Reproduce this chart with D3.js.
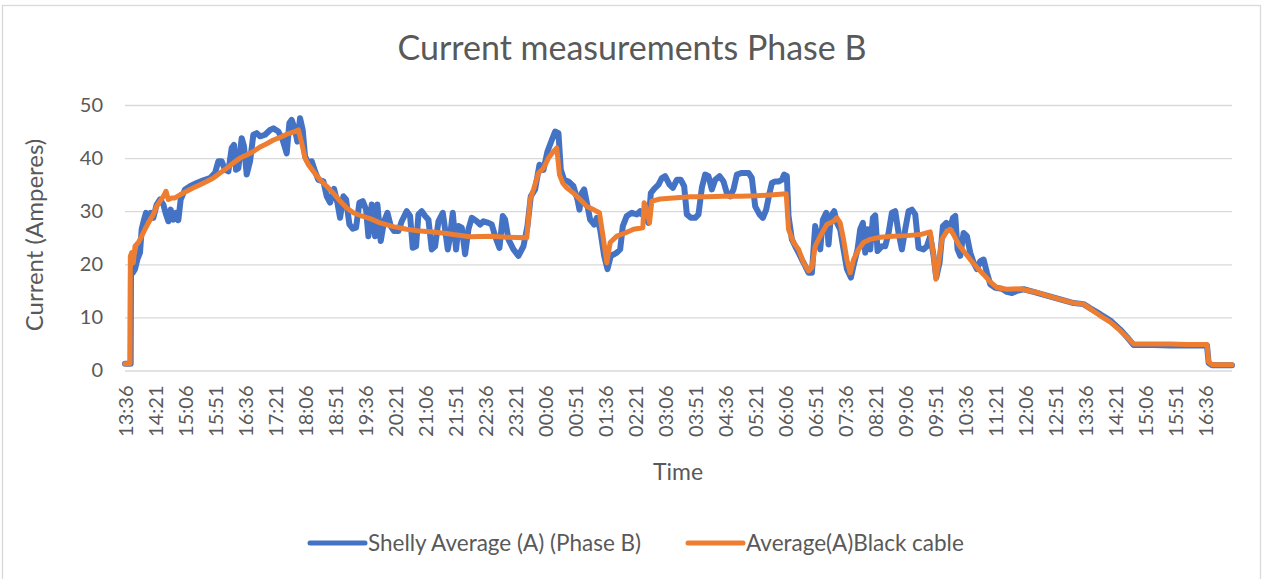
<!DOCTYPE html>
<html>
<head>
<meta charset="utf-8">
<script src="https://cdn.jsdelivr.net/npm/d3@7"></script>
<style>
  body { margin: 0; background: #fff; }
  text { font-family: Lato, "Open Sans", sans-serif; fill: #595959; }
</style>
</head>
<body>
<svg id="chart" width="1268" height="579"></svg>
<script>
/* Data: [minutes since 13:36, amperes] */
const shelly = [
  [0,1.25],[8.5,1.25],[9,19.1],[11.5,18.4],[15,19.1],[18.5,20.9],[22.5,22.2],[25,26.6],[28.5,28.4],[31.5,29.7],
  [35,28.75],[38.5,29.7],[42.5,28.75],[47.5,31.25],[52.5,32.2],[57.5,31.25],[61.5,29.4],[65,28.1],[68.5,30.3],[72.5,28.4],
  [76.5,29.7],[80,28.3],[83.5,32.2],[90,34.1],[97.5,34.7],[107.5,35.3],[117.5,35.8],[127.5,36.25],[135,37.2],[140,39.4],
  [145,39.4],[150,37.8],[155,37.5],[160,41.9],[163.5,42.5],[166.5,37.8],[170,38.1],[175,43.75],[178.5,42.2],[182.5,36.9],
  [187.5,39.4],[192.5,44.4],[197.5,44.7],[202.5,44.1],[210,44.4],[217.5,45.3],[222.5,45.6],[230,45],[236.5,43.4],[242.5,40.9],
  [246.5,46.6],[250,47.2],[255,45.3],[258.5,43.1],[262.5,47.5],[266.5,45.3],[270,40.3],[275,39.1],[280,39.4],[285,37.5],
  [290,35.9],[297.5,35.6],[302.5,32.8],[307.5,31.6],[313.5,34.2],[318.5,31.6],[322.5,28.75],[327.5,32.8],[331.5,32.2],[336.5,27.5],
  [341.5,26.7],[346.5,26.9],[351.5,31.6],[356.5,31.9],[361.5,30.3],[365,25.3],[370,31.25],[375,25.3],[378.5,31.25],[383.5,24.4],
  [388.5,28.1],[393.5,29.7],[398.5,27.2],[403.5,26.25],[410,26.25],[415,28.1],[422.5,30],[427.5,29.1],[431.5,23.1],[436.5,23.4],
  [440,29.4],[445,30],[450,29.1],[455,28.4],[460,22.8],[465,23.4],[470,28.1],[476.5,29.7],[480,26.6],[484,22.8],
  [487.5,25.3],[491.5,29.7],[496.5,22.8],[500,27.2],[505,26.9],[510,21.9],[515,26.6],[520,28.75],[527.5,28.1],[532.5,27.5],
  [537.5,28.1],[545,27.8],[550,27.5],[555,25.3],[561.5,23.1],[566.5,29.1],[570,28.4],[575,24.7],[582.5,22.8],[590,21.6],
  [597.5,23.4],[603.5,27.2],[608.5,32.8],[615,34.1],[621.5,38.75],[627.5,37.8],[633.5,41.25],[640,43.4],[645,45],[650,44.7],
  [653.5,37.8],[658.5,35.9],[665,35.6],[672.5,34.7],[678.5,32.2],[681.5,30.3],[685,33.4],[688.5,34.1],[692.5,31.6],[697.5,28.4],
  [703.5,27.5],[707.5,28.75],[712.5,26.6],[718.5,21.6],[723.5,19.1],[728.5,21.6],[733.5,21.9],[737.5,22.2],[742.5,22.8],[746.5,27.2],
  [752.5,29.1],[760,29.7],[767.5,29.4],[772.5,30],[775,29.4],[780,29.1],[785,27.8],[788.5,33.4],[793.5,34.2],[800,35],
  [805,36.25],[810,36.6],[816.5,35],[821.5,34.4],[827.5,35.9],[833.5,35.9],[838.5,34.7],[842.5,29.4],[848.5,28.75],[855,28.75],
  [860,29.4],[865,34.4],[870,36.9],[875,36.6],[880,34.1],[885,35.9],[891.5,36.6],[897.5,35.6],[902.5,33.4],[907.5,32.8],
  [912.5,34.1],[917.5,36.9],[925,37.2],[935,37.2],[940,36.25],[945,30.9],[951.5,29.4],[956.5,28.75],[961.5,30.3],[966.5,33.4],
  [970,35.3],[975,35.6],[980,35.6],[985,35.9],[988.5,36.9],[992.5,36.6],[995,29.1],[1000,24.7],[1005,23.4],[1010,22.2],
  [1015,20.9],[1020,19.7],[1025,18.4],[1030,18.4],[1035,27.2],[1038.5,25.3],[1042.5,22.8],[1046.5,28.4],[1051.5,29.7],[1055,23.75],
  [1058.5,29.1],[1063.5,30],[1067.5,27.8],[1072.5,26.6],[1077.5,22.8],[1082.5,19.1],[1088.5,17.5],[1093.5,20.3],[1098.5,22.8],[1102.5,26.6],
  [1106.5,27.8],[1110,22.2],[1113.5,26.6],[1117.5,22.8],[1121.5,28.75],[1125,29.2],[1128.5,22.5],[1135,23.4],[1140,23.4],[1145,25.9],
  [1150,29.7],[1155,30],[1160,25.9],[1165,22.8],[1170,26.6],[1175,30],[1180,30.3],[1185,29.4],[1190,23.1],[1197.5,22.8],
  [1202.5,23.4],[1207.5,25.3],[1212.5,21.6],[1216.5,17.5],[1221.5,20.3],[1226.5,27.2],[1231.5,27.8],[1236.5,26.6],[1241.5,28.75],[1245,29.1],
  [1248.5,22.8],[1252.5,21.6],[1257.5,25.9],[1262.5,25.3],[1267.5,22.2],[1272.5,20.3],[1277.5,19.1],[1282.5,20.6],[1287.5,20.9],[1292.5,18.4],
  [1297.5,16.25],[1305,15.6],[1315,15.4],[1322.5,14.8],[1330,14.6],[1337.5,15],[1347.5,15.3],[1362.5,14.8],[1382.5,14.1],[1402.5,13.4],
  [1422.5,12.7],[1437.5,12.5],[1447.5,11.7],[1462.5,10.6],[1477.5,9.4],[1492.5,7.7],[1502.5,6.3],[1512.5,4.8],[1542.5,4.8],[1567.5,4.7],
  [1592.5,4.7],[1622.5,4.7],[1625,1.4],[1630,1.0],[1660,1.0]
];

const blackCable = [
  [0,1.25],[7.5,1.25],[8,21.5],[10,22.2],[12.5,20.3],[15,23.4],[20,24.1],[25,25.3],[30,26.6],[35,27.8],
  [42.5,29.4],[47.5,30.9],[52.5,31.9],[57.5,32.8],[61.5,33.75],[65,32.2],[70,32.5],[75,32.5],[82.5,33.1],[92.5,33.75],
  [102.5,34.4],[112.5,35],[122.5,35.6],[132.5,36.25],[142.5,37.2],[152.5,38.1],[162.5,39.1],[172.5,40],[182.5,40.6],[192.5,41.25],
  [202.5,42.1],[212.5,42.7],[222.5,43.4],[232.5,43.9],[242.5,44.5],[252.5,44.9],[260,45.3],[265,42.8],[270,40],[275,38.75],
  [282.5,37.5],[292.5,35.9],[302.5,34.7],[312.5,33.4],[322.5,31.9],[332.5,30.6],[342.5,29.7],[352.5,29.2],[367.5,28.6],[382.5,27.8],
  [402.5,27.1],[422.5,26.6],[442.5,26.25],[462.5,26.1],[482.5,25.8],[492.5,25.6],[517.5,25.2],[547.5,25.3],[572.5,25.1],[602.5,25],
  [607.5,32.2],[612.5,34.1],[620,37.2],[627.5,38.1],[635,40],[642.5,41.25],[647.5,41.9],[651.5,36.9],[656.5,35.3],[662.5,34.4],
  [672.5,33.4],[682.5,32.2],[692.5,30.9],[702.5,30.3],[711.5,29.7],[717.5,24.7],[722.5,20.3],[727.5,24.1],[737.5,25.3],[750,25.9],
  [762.5,26.6],[776.5,26.9],[778.5,31.6],[782.5,30.3],[786.5,27.8],[790,31.9],[802.5,32.3],[822.5,32.5],[847.5,32.7],[872.5,32.7],
  [897.5,32.8],[922.5,32.8],[947.5,32.9],[972.5,33.1],[991.5,33.3],[995,26.6],[1002.5,24.1],[1010,22.8],[1017.5,20.3],[1025,18.75],
  [1030,19.4],[1035,23.4],[1042.5,25.3],[1052.5,27.5],[1062.5,28.1],[1067.5,28.75],[1072.5,27.8],[1077.5,24.7],[1082.5,20.9],[1087.5,18.4],
  [1092.5,20.9],[1100,22.8],[1107.5,24.1],[1117.5,24.7],[1132.5,25.1],[1152.5,25.3],[1172.5,25.4],[1192.5,25.6],[1207.5,26.1],[1212.5,21.6],
  [1216,17.2],[1220,20.3],[1225,24.7],[1232.5,26.25],[1237.5,26.6],[1242.5,25.6],[1250,23.75],[1257.5,22.5],[1267.5,20.9],[1277.5,19.4],
  [1287.5,18.1],[1297.5,16.7],[1307.5,15.6],[1322.5,15.3],[1342.5,15.4],[1352.5,15.1],[1367.5,14.7],[1382.5,14.1],[1402.5,13.4],[1422.5,12.7],
  [1437.5,12.5],[1447.5,11.6],[1462.5,10.3],[1477.5,9.1],[1492.5,7.5],[1502.5,6.25],[1512.5,5],[1542.5,5],[1567.5,5],[1592.5,4.9],
  [1622.5,4.9],[1625,1.6],[1630,1.1],[1660,1.1]
];

const timeLabels = ['13:36','14:21','15:06','15:51','16:36','17:21','18:06','18:51','19:36','20:21','21:06','21:51','22:36',
  '23:21','00:06','00:51','01:36','02:21','03:06','03:51','04:36','05:21','06:06','06:51','07:36','08:21','09:06','09:51',
  '10:36','11:21','12:06','12:51','13:36','14:21','15:06','15:51','16:36'];
const labelStep = 45; // minutes between labels
const yTicks = [0, 10, 20, 30, 40, 50];

const seriesNames = ['Shelly Average (A) (Phase B)', 'Average(A)Black cable'];
const seriesColors = ['#4472C4', '#ED7D31'];

/* SVG */
const svg = d3.select('#chart');
const W = 1268, H = 579;
const plot = { left: 125, right: 1232, top: 105, bottom: 370.5 };

svg.append('rect').attr('width', W).attr('height', H).attr('fill', '#fff');
svg.append('rect')
  .attr('x', 2.5).attr('y', 5.5).attr('width', 1258).attr('height', 600)
  .attr('fill', 'none').attr('stroke', '#d9d9d9').attr('stroke-width', 1.3);

/* Scales */
const x = d3.scaleLinear().domain([0, 1660]).range([plot.left, plot.right]);
const y = d3.scaleLinear().domain([0, 50]).range([plot.bottom, plot.top]);

/* Grid + y labels */
const yAxis = d3.axisLeft(y).tickValues(yTicks).tickSize(-(plot.right - plot.left)).tickPadding(22);
const gy = svg.append('g').attr('transform', `translate(${plot.left},0)`).call(yAxis);
gy.select('.domain').remove();
gy.selectAll('.tick line').attr('stroke', '#d9d9d9').attr('stroke-width', 1.3);
gy.selectAll('.tick text').attr('x', -22).style('font-size', '20px').attr('fill', '#595959');

/* X labels */
const xAxis = d3.axisBottom(x)
  .tickValues(timeLabels.map((d, i) => i * labelStep))
  .tickFormat((d, i) => timeLabels[i])
  .tickSize(0);
const gx = svg.append('g').attr('transform', `translate(0,${plot.bottom})`).call(xAxis);
gx.select('.domain').remove();
gx.selectAll('.tick text')
  .attr('transform', 'rotate(-90)')
  .attr('text-anchor', 'end')
  .attr('x', -15).attr('y', 0).attr('dy', '0.35em')
  .style('font-size', '20px').attr('fill', '#595959');

/* Lines */
const line = d3.line().x(d => x(d[0])).y(d => y(d[1]));
[shelly, blackCable].forEach((s, i) => {
  svg.append('path').datum(s)
    .attr('d', line)
    .attr('fill', 'none')
    .attr('stroke', seriesColors[i])
    .attr('stroke-width', i === 0 ? 6 : 5)
    .attr('stroke-linejoin', 'round')
    .attr('stroke-linecap', 'round');
});

/* Titles */
svg.append('text').attr('x', 632).attr('y', 48).attr('dy', '0.35em')
  .attr('text-anchor', 'middle').style('font-size', '34px')
  .text('Current measurements Phase B');
svg.append('text').attr('transform', 'translate(35,235) rotate(-90)').attr('dy', '0.35em')
  .attr('text-anchor', 'middle').style('font-size', '24px')
  .text('Current (Amperes)');
svg.append('text').attr('x', 678).attr('y', 472).attr('dy', '0.35em')
  .attr('text-anchor', 'middle').style('font-size', '23px')
  .text('Time');

/* Legend */
const legendX = [310, 688];
seriesNames.forEach((n, i) => {
  const g = svg.append('g').attr('transform', `translate(${legendX[i]},543)`);
  g.append('line').attr('x1', 0).attr('x2', 55)
    .attr('stroke', seriesColors[i]).attr('stroke-width', 5).attr('stroke-linecap', 'round');
  g.append('text').attr('x', 58).attr('dy', '0.35em').style('font-size', '22.5px').text(n);
});
</script>
</body>
</html>
